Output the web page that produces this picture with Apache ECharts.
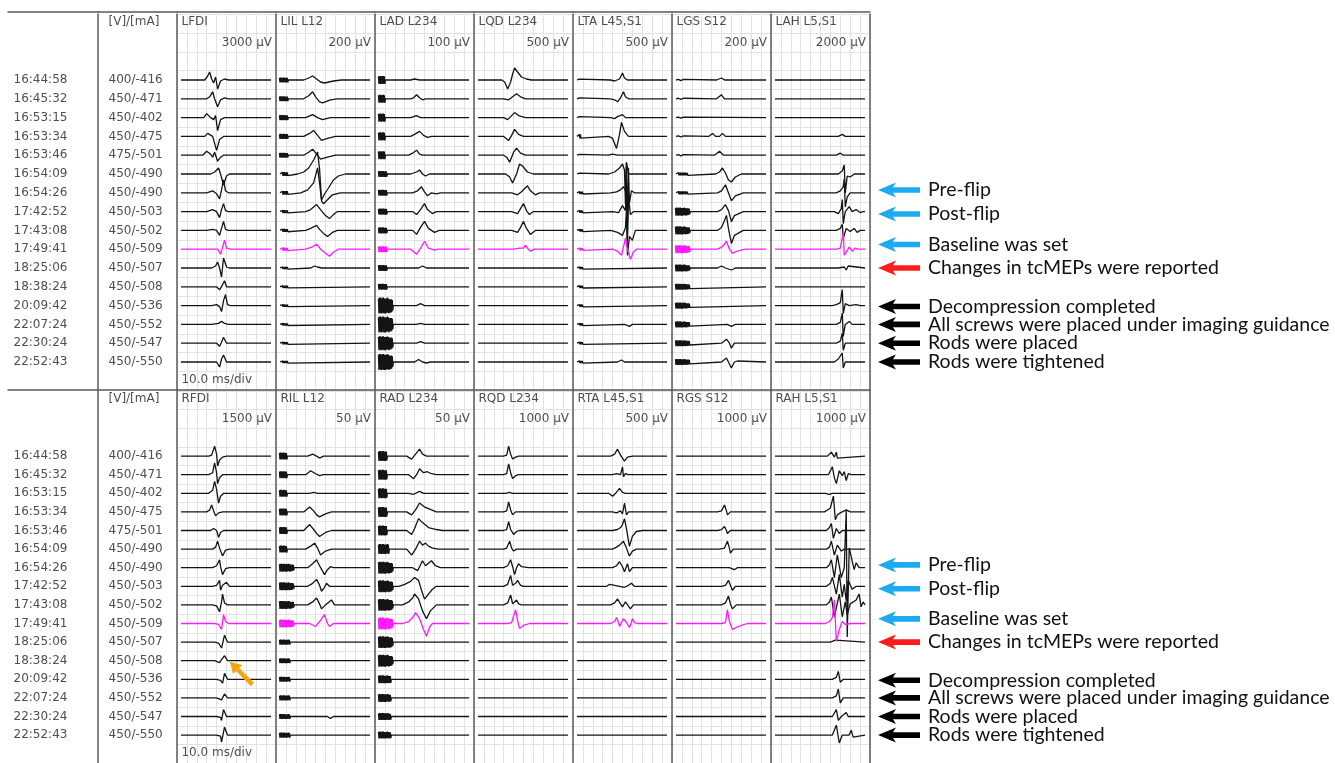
<!DOCTYPE html>
<html>
<head>
<meta charset="utf-8">
<script src="https://cdn.jsdelivr.net/npm/echarts@6/dist/echarts.min.js"></script>
<style>
  html, body { margin: 0; padding: 0; background: #fff; }
  #chart { width: 1335px; height: 763px; }
</style>
</head>
<body>
<div id="chart"></div>
<script>
// ---- layout units: one trace row = ROW grid units (about one pixel per unit) ----
const ROW = 18.8;
const HEAD_ROWS = 3;       // header rows above the first trace
const FOOT_ROWS = 17;      // axis end, in rows
const TRACE_SPAN = [4, 95]; // shown sweep window, ms (10 ms/div, 100 ms)

// ---- run list ----
const times = ['16:44:58', '16:45:32', '16:53:15', '16:53:34', '16:53:46', '16:54:09', '16:54:26', '17:42:52',
  '17:43:08', '17:49:41', '18:25:06', '18:38:24', '20:09:42', '22:07:24', '22:30:24', '22:52:43'];
const stimulus = ['400/-416', '450/-471', '450/-402', '450/-475', '475/-501', '450/-490', '450/-490', '450/-503',
  '450/-502', '450/-509', '450/-507', '450/-508', '450/-536', '450/-552', '450/-547', '450/-550'];
const BASELINE_ROW = 9;

const leftNames = ['LFDI', 'LIL L12', 'LAD L234', 'LQD L234', 'LTA L45,S1', 'LGS S12', 'LAH L5,S1'];
const leftGains = ['3000 µV', '200 µV', '100 µV', '500 µV', '500 µV', '200 µV', '2000 µV'];
const rightNames = ['RFDI', 'RIL L12', 'RAD L234', 'RQD L234', 'RTA L45,S1', 'RGS S12', 'RAH L5,S1'];
const rightGains = ['1500 µV', '50 µV', '50 µV', '1000 µV', '500 µV', '1000 µV', '1000 µV'];

// ---- event notes ----
const notes = ['Pre-flip', 'Post-flip', 'Baseline was set', 'Changes in tcMEPs were reported',
  'Decompression completed', 'All screws were placed under imaging guidance', 'Rods were placed', 'Rods were tightened'];
const noteRows = [5.85, 7.13, 8.75, 10, 12.05, 13, 14, 15];
const noteColors = ['#1eaaf0', '#1eaaf0', '#1eaaf0', '#ff1c1c', '#000000', '#000000', '#000000', '#000000'];

// ---- stimulus artifact ringing (ms, relative size), cut per row at its own end time ----
const artifactShape = [3,0, 3.5,0.9, 4,-1, 4.5,1, 5,-0.9, 5.5,1, 6,-1, 6.5,0.9, 7,-1, 7.5,1, 8,-0.9, 8.5,1,
  9,-1, 9.5,0.9, 10,-1, 10.5,0.9, 11,-1, 11.5,0.9, 12,-0.9, 12.5,1, 13,-0.9, 13.5,0.9, 14,-1, 14.5,0.8,
  15,-0.9, 15.5,0.8, 16,-0.9, 16.5,0.8, 17,-0.8, 17.5,0.7, 18,-0.6, 18.5,0.4];
// per row: [size, end ms]
const artLIL = [[2.5,12],[2.5,12],[2.5,12],[2.5,12],[2.5,12],[1.8,12],[1.8,12],[1.5,12],[1.5,12],[1.5,12],[1.2,12],[1.2,12],[1.2,12],[1.2,12],[1.2,12],[1.2,12]];
const artLAD = [[4,10],[4,10],[4,10],[4,10],[4,10],[3,12],[3,12],[3,12],[3,12],[3,12],[3,12],[3,12],[8,18],[8,18],[7,18],[8,18]];
const artLTA = [[1,8],[1,8],[1,8],[2,8],[1,8],[1,8],[1.2,10],[1.2,10],[1.2,10],[1.2,10],[1.2,10],[1.2,10],[1.2,10],[1.2,10],[1.2,10],[1.2,10]];
const artLGS = [[0.6,12],[0.6,12],[0.6,12],[0.6,12],[0.6,12],[1.5,16],[1.5,16],[4,18],[4,18],[4,18],[3.5,18],[3,18],[3,18],[3,18],[3,18],[3,18]];
const artRIL = [[3.5,11],[3.5,11],[3.5,11],[3.5,11],[3.5,11],[3.5,11],[4,18],[4,18],[4,18],[4,18],[2.5,14],[2.5,14],[2.5,14],[2.5,14],[2.5,14],[2.5,14]];
const artRAD = [[5,12],[5,12],[5,12],[5,12],[5,12],[5,14],[6,18],[6,18],[6,18],[6,18],[6,18],[6,18],[4,16],[4,16],[3.5,16],[3.5,16]];

// ---- responses: per row [ms, deflection, ...], deflection in grid units, up positive ----
const LFDI = [
  [28,0, 31,4, 33,8, 35,1, 37,-3, 39,3, 41,-9, 44,-1, 48,1, 52,0],
  [30,0, 33,2, 36,7, 38,0, 41,-8, 44,-1, 48,1, 52,0],
  [27,0, 30,4, 31,5, 34,0, 37,-2, 39,2, 41,-13, 44,-2, 48,0],
  [28,0, 31,3, 33,5, 36,0, 40,-14, 43,-3, 47,0],
  [26,0, 30,4, 31,6, 34,1, 36,-2, 38,3, 41,-6, 44,-2, 47,0],
  [34,0, 38,2, 40,1, 42,6, 44,0, 47,-11, 50,-2, 53,0],
  [30,0, 36,2, 40,-1, 43,-6, 45,3, 47,13, 49,2, 52,0],
  [30,0, 36,2, 40,0, 43,-6, 45,2, 47,8, 49,1, 52,0],
  [30,0, 36,1, 40,0, 43,-5, 45,2, 47,9, 49,1, 52,0],
  [35,0, 41,0, 44,-5, 46,2, 48,9, 50,1, 53,0],
  [35,0, 39,2, 41,6, 43,0, 45,-9, 47,10, 50,1, 53,0],
  [35,0, 40,0, 43,-3, 46,2, 48,6, 50,0],
  [35,0, 40,1, 43,-1, 45,-6, 47,5, 49,11, 51,1, 54,0],
  [35,0, 42,1, 45,3, 48,1, 52,0],
  [35,0, 40,0, 43,-3, 45,1, 47,6, 50,0],
  [35,0, 40,0, 43,-5, 45,3, 47,7, 50,0]
];
const LIL = [
  [28,0, 33,2, 37,4, 41,1, 45,-2, 49,-3, 58,-1, 66,0],
  [28,0, 33,3, 37,7, 40,2, 44,-3, 47,-4, 55,-1, 62,0],
  [30,0, 37,3, 42,0, 47,-2, 55,0],
  [28,0, 34,3, 38,6, 42,1, 46,-4, 52,-2, 60,0],
  [28,0, 33,3, 37,6, 41,1, 45,-4, 52,-2, 60,0],
  [22,0, 28,2, 33,6, 38,14, 42,22, 44,5, 46,-26, 49,-20, 53,-14, 58,-6, 63,-2, 70,0],
  [25,0, 32,3, 38,10, 42,25, 44,10, 46,-8, 48,-11, 52,-7, 57,-2, 65,0],
  [30,0, 35,2, 41,7, 45,2, 50,-4, 54,-7, 58,-3, 62,0],
  [30,0, 35,2, 41,5, 44,1, 48,-3, 52,-6, 57,-2, 62,0],
  [30,0, 36,2, 41,5, 45,0, 50,-4, 54,-7, 58,-3, 63,0],
  [35,0, 39,2, 42,1, 46,0],
  [], [], [], [], []
];
const LAD = [
  [36,0, 40,1, 42,2, 45,0],
  [36,0, 39,1, 42,4, 45,1, 48,-1, 51,0],
  [36,0, 42,2, 46,0],
  [36,0, 40,2, 45,5, 49,1, 53,-1, 57,0],
  [34,0, 38,2, 42,5, 45,1, 48,0],
  [36,0, 42,2, 45,4, 48,0, 51,-2, 55,0],
  [38,0, 43,2, 47,6, 50,1, 53,-3, 57,0, 62,-1, 66,0],
  [38,0, 42,-3, 46,2, 50,8, 53,2, 58,-2, 62,0],
  [38,0, 42,-4, 46,3, 50,9, 54,2, 60,-2, 65,0],
  [36,0, 42,-5, 46,1, 50,8, 54,1, 60,-1, 64,0],
  [44,0, 48,2, 52,0],
  [],
  [42,0, 46,2, 50,0],
  [42,0, 46,1, 50,0],
  [42,0, 46,1.5, 50,0],
  [40,0, 44,2.5, 48,0, 52,-1, 56,0]
];
const LQD = [
  [28,0, 31,-2, 34,-9, 37,-2, 39,6, 41,12, 44,8, 48,3, 53,1, 58,0],
  [30,0, 35,-1, 39,2, 43,5, 47,2, 52,0],
  [30,0, 34,-2, 37,1, 41,5, 45,2, 52,0],
  [30,0, 35,-4, 38,1, 41,7, 45,2, 50,0],
  [30,0, 33,-2, 36,-7, 40,3, 43,7, 47,2, 52,0],
  [32,0, 36,-3, 39,-9, 43,0, 46,10, 49,8, 54,2, 60,0],
  [38,0, 44,-2, 48,1, 51,4, 54,7, 57,2, 62,-2, 66,0],
  [38,0, 44,-2, 47,3, 50,8, 53,1, 56,-3, 60,0],
  [38,0, 44,-2, 47,3, 50,9, 53,2, 57,-4, 62,0],
  [40,0, 46,1, 48,3, 50,1, 52,4, 54,1, 57,-2, 61,0],
  [], [], [], [], [], []
];
const LTA = [
  [38,0, 42,-1, 44,-3, 47,1, 50,7, 52,2, 55,0],
  [38,0, 42,-1, 45,-3, 48,1, 51,7, 53,2, 56,0],
  [38,0, 42,-1, 45,1, 50,3, 53,0],
  [36,0, 40,-2, 44,-12, 47,2, 49,14, 52,5, 56,0],
  [36,0, 40,1, 42,2, 45,0],
  [36,0, 42,2, 47,6, 50,10, 52,4, 53,-30, 54,12, 56,0, 60,0],
  [38,0, 44,1, 48,3, 51,6, 53,2, 54,30, 55,-40, 56,25, 57,-10, 59,2, 62,0],
  [40,0, 46,-1, 50,6, 53,1, 54,28, 55,-30, 56,15, 58,-3, 61,0],
  [38,0, 45,-2, 50,-5, 53,3, 54,20, 55,-25, 57,-6, 60,-10, 63,0],
  [40,0, 45,-2, 49,-6, 51,2, 53,11, 55,0, 58,-10, 61,-3, 64,0],
  [], [], [],
  [52,0, 57,-2, 60,0],
  [],
  [45,0, 49,2, 52,0]
];
const LGS = [
  [45,0, 50,2, 53,0],
  [45,0, 50,4, 53,0, 55,-1, 58,0],
  [],
  [37,0, 41,3, 44,0, 48,0, 51,3, 54,0],
  [43,0, 48,4, 52,0],
  [44,0, 48,2, 51,6, 54,1, 57,-6, 60,-8, 64,-3, 70,0],
  [46,0, 50,2, 54,8, 57,0, 60,-8, 64,-3, 72,0],
  [46,0, 50,2, 54,7, 57,1, 60,-10, 63,-4, 72,0],
  [46,0, 50,3, 53,10, 55,15, 57,2, 60,-13, 63,-5, 72,0],
  [46,0, 50,2, 53,5, 55,8, 58,0, 61,-4, 66,-2, 74,0],
  [46,0, 50,2, 54,0, 60,-2, 64,0],
  [], [],
  [56,0, 60,-2, 64,0],
  [50,0, 55,4, 58,0, 60,-5, 63,0],
  [50,0, 55,4, 58,-2, 60,-6, 63,0, 66,1, 68,0]
];
const LAH = [
  [], [], [],
  [68,0, 72,2, 75,0],
  [66,0, 70,2, 73,0],
  [68,0, 72,3, 74,9, 75,-19, 77,-2, 80,-3, 84,0],
  [66,0, 70,2, 73,6, 74,14, 75,-14, 77,-4, 80,0],
  [64,0, 68,-2, 71,3, 72,12, 73,-12, 75,0, 79,5, 82,0, 86,2, 90,-1, 93,0],
  [66,0, 70,2, 72,6, 73,-8, 76,2, 80,-1, 84,2, 87,-2, 90,0],
  [66,0, 70,1, 72,3, 73,16, 74,-6, 76,-3, 79,2, 82,-2, 85,1, 88,0],
  [68,0, 74,1, 76,-2, 78,2, 80,0],
  [],
  [62,0, 66,1, 70,3, 72,16, 73,-8, 75,2, 79,0, 86,1, 90,0],
  [66,0, 70,2, 72,11, 73,-12, 75,0, 79,3, 82,0],
  [66,0, 70,2, 72,10, 73,-7, 75,0],
  [64,0, 68,3, 72,9, 73,-6, 75,0, 80,0]
];

const RFDI = [
  [32,0, 35,1, 37,3, 38,10, 40,2, 41,-10, 43,-4, 46,-1, 50,0],
  [32,0, 36,2, 38,12, 40,2, 41,-9, 43,-3, 46,0],
  [32,0, 36,3, 38,12, 40,4, 42,-10, 44,-3, 47,0],
  [30,0, 33,2, 35,7, 37,1, 39,-4, 42,-1, 46,0],
  [34,0, 37,2, 38,4, 40,0, 42,-7, 44,-2, 47,0],
  [36,0, 39,2, 41,8, 43,1, 46,-7, 49,-1, 53,0],
  [36,0, 40,2, 43,8, 44,1, 46,-7, 49,-1, 53,0],
  [36,0, 40,1, 43,6, 44,-4, 46,1, 50,4, 53,0],
  [36,0, 40,-1, 43,-7, 45,3, 46,11, 48,2, 51,0],
  [38,0, 42,-1, 45,-6, 47,9, 49,2, 52,0],
  [38,0, 42,-1, 45,-6, 48,7, 51,0],
  [38,0, 43,-2, 45,1, 48,5, 51,0],
  [40,0, 44,-1, 46,-4, 48,6, 51,0],
  [40,0, 45,-2, 48,4, 51,0],
  [40,0, 44,-1, 45,-4, 47,7, 50,0],
  [40,0, 44,-1, 45,-7, 48,8, 51,0]
];
const RIL = [
  [32,0, 37,2, 41,0, 44,-2, 48,0],
  [30,0, 35,4, 40,1, 44,-1, 48,0],
  [34,0, 38,1, 42,0],
  [28,0, 34,5, 38,1, 41,-3, 44,-5, 50,-2, 56,0],
  [28,0, 34,6, 38,1, 41,-3, 44,-6, 50,-2, 56,0],
  [30,0, 35,3, 39,6, 42,1, 45,-6, 50,-2, 56,0],
  [32,0, 37,4, 41,8, 44,2, 49,-7, 52,-2, 55,1, 58,0],
  [32,0, 37,3, 41,7, 44,1, 46,-5, 49,-1, 51,3, 54,0],
  [32,0, 37,3, 41,7, 44,1, 46,-4, 50,0, 56,5, 59,0],
  [34,0, 40,-3, 44,2, 49,9, 52,0, 54,-3, 58,0],
  [], [], [], [],
  [52,0, 55,-2, 58,0],
  []
];
const RAD = [
  [32,0, 37,-3, 41,2, 45,7, 48,2, 52,0],
  [34,0, 39,-4, 42,0, 45,6, 49,2, 53,3, 57,1, 62,0],
  [34,0, 39,-1, 45,2, 49,0],
  [32,0, 37,-3, 41,2, 45,9, 50,5, 57,2, 62,0],
  [32,0, 37,-4, 40,2, 44,12, 48,8, 54,3, 62,1, 68,0],
  [32,0, 37,-6, 41,0, 45,8, 48,4, 51,6, 54,3, 58,1, 64,0],
  [38,0, 43,-3, 46,3, 48,7, 51,2, 57,7, 61,2, 66,0],
  [24,0, 30,2, 36,5, 40,9, 44,6, 47,-4, 50,-13, 54,-8, 58,-3, 62,0],
  [28,0, 34,3, 38,7, 40,11, 44,6, 48,-6, 52,-14, 56,-6, 62,0],
  [28,0, 34,2, 38,6, 41,11, 45,5, 49,-6, 52,-13, 55,-4, 58,0],
  [], [], [], [], [], []
];
const RQD = [
  [30,0, 33,1, 35,10, 37,2, 39,-3, 42,-1, 45,0],
  [30,0, 33,1, 35,11, 37,2, 39,-4, 42,-1, 45,0],
  [32,0, 36,1, 39,0],
  [30,0, 33,1, 35,10, 37,2, 39,-3, 42,0],
  [30,0, 33,1, 35,9, 37,1, 40,-4, 43,-1, 46,0],
  [30,0, 33,1, 36,8, 38,1, 40,-2, 43,0],
  [30,0, 34,2, 37,8, 39,1, 41,-7, 43,0, 45,4, 48,1, 55,0],
  [30,0, 34,2, 37,11, 39,1, 40,-1, 42,3, 44,6, 47,1, 50,0],
  [30,0, 34,2, 37,10, 39,1, 40,1, 43,5, 45,1, 48,0],
  [34,0, 38,1, 40,3, 42,14, 44,3, 46,-5, 50,-2, 56,0],
  [], [], [], [], [], []
];
const RTA = [
  [38,0, 42,2, 45,7, 48,1, 52,-5, 55,-1, 60,0],
  [40,0, 44,1, 46,3, 48,0, 50,8, 51,-2, 53,1, 56,0],
  [36,0, 40,-3, 43,0, 47,5, 50,1, 53,0],
  [40,0, 44,-1, 48,1, 50,-2, 52,9, 54,-3, 56,0, 59,0],
  [40,0, 45,1, 48,3, 50,6, 52,12, 54,2, 57,-16, 60,-6, 64,-1, 70,0],
  [40,0, 44,2, 47,4, 51,8, 54,1, 57,-7, 60,-2, 64,0],
  [40,0, 44,2, 47,6, 50,1, 52,-4, 55,4, 57,-4, 60,0],
  [34,0, 37,2, 39,4, 42,1, 47,0, 52,-1, 56,1, 59,3, 62,0],
  [38,0, 42,2, 45,6, 48,1, 50,-2, 53,3, 55,1, 58,-4, 61,0],
  [38,0, 42,2, 44,6, 46,1, 47,-3, 49,1, 51,5, 54,1, 57,-4, 59,1, 60,5, 62,1, 65,0],
  [], [], [], [], [], []
];
const RGS = [
  [], [], [],
  [46,0, 50,1, 53,7, 55,1, 56,-3, 59,0],
  [46,0, 50,1, 53,4, 55,0, 56,-3, 59,0],
  [48,0, 53,1, 56,8, 58,1, 59,-4, 62,0],
  [58,0, 63,-2, 66,0],
  [50,0, 54,1, 57,6, 59,1, 61,-4, 64,0],
  [50,0, 54,2, 57,9, 59,1, 61,-4, 65,0],
  [50,0, 54,1, 56,14, 58,2, 61,-6, 65,-4, 70,-2, 76,0],
  [], [], [], [], [], []
];
const RAH = [
  [57,0, 61,4, 64,-1, 66,4, 67,-2, 69,0],
  [58,0, 62,8, 64,-3, 66,-9, 69,4, 72,-1, 74,3, 76,-6, 78,1, 81,0],
  [55,0, 57,2, 59,-1, 62,0],
  [54,0, 57,2, 60,4, 63,16, 65,-8, 67,-3, 70,-1, 76,2, 80,0],
  [56,0, 59,3, 61,7, 63,-8, 66,2, 69,-3, 72,0],
  [56,0, 59,2, 61,8, 64,-6, 67,4, 71,-2, 74,0],
  [56,0, 59,3, 61,8, 64,-10, 67,13, 71,-10, 74,0, 76,58, 77,-70, 79,20, 84,-2, 86,5, 89,0],
  [56,0, 60,3, 62,9, 66,-8, 69,12, 72,-11, 74,2, 76,-15, 78,6, 82,-3, 86,0],
  [56,0, 59,3, 61,8, 64,-12, 69,11, 72,-12, 75,3, 77,-10, 80,1, 86,5, 89,11, 91,-2, 93,3, 95,0],
  [55,0, 59,2, 62,6, 64,24, 66,-18, 69,-6, 72,2, 75,-1, 80,0],
  [60,0, 65,2, 67,0],
  [],
  [62,0, 66,2, 68,8, 70,-3, 73,0],
  [62,0, 66,2, 68,9, 70,-5, 73,0],
  [62,0, 66,7, 68,-4, 71,0, 76,4, 78,0],
  [62,0, 66,10, 69,-8, 72,0, 79,0, 81,5, 83,-2, 85,0]
];

// pointer on the right FDI trace at 18:38:24: [tail ms, tail row, tip ms, tip row]
const pointer = [76, 12.27, 53.5, 11.05];

// ---- page geometry ----
const COL_X = [177, 276, 375, 474, 573, 672, 771];
const COL_W = 99;
const panels = [
  { top: 14.2, height: 376, ruleOffset: 2, names: leftNames, gains: leftGains,
    traces: [LFDI, LIL, LAD, LQD, LTA, LGS, LAH], arts: [null, artLIL, artLAD, null, artLTA, artLGS, null] },
  { top: 391, height: 377.4, ruleOffset: 1, names: rightNames, gains: rightGains,
    traces: [RFDI, RIL, RAD, RQD, RTA, RGS, RAH], arts: [null, artRIL, artRAD, null, null, null, null] }
];
const NAME_Y = -2.6 * ROW, GAIN_Y = -1.5 * ROW, FOOT_Y = 16.45 * ROW;
const INK = '#141414', MAGENTA = '#ff1aff', GRIDLINE = '#e2e2e2', FRAME = '#5a5a5a';
const TEXT_FONT = 'DejaVu Sans';

const rowY = r => (r + 0.5) * ROW;

function traceData(keys, row, art) {
  const c = rowY(row);
  const pts = [[TRACE_SPAN[0], c]];
  if (art) {
    for (let k = 0; k < artifactShape.length && artifactShape[k] <= art[1]; k += 2) {
      pts.push([artifactShape[k], c - artifactShape[k + 1] * art[0]]);
    }
    pts.push([art[1] + 0.5, c]);
  }
  for (let k = 0; k < keys.length; k += 2) pts.push([keys[k], c - keys[k + 1]]);
  pts.push([TRACE_SPAN[1], c]);
  return pts;
}

const grids = [], xAxes = [], yAxes = [], series = [];
const hidden = { show: false };
const frameLine = { show: true, onZero: false, lineStyle: { color: FRAME, width: 1.5 } };
const yBase = { type: 'value', inverse: true, min: -HEAD_ROWS * ROW, max: FOOT_ROWS * ROW, interval: ROW,
  axisLabel: hidden, axisTick: hidden };

function addGrid(g, x, y) {
  grids.push(g);
  const i = grids.length - 1;
  xAxes.push(Object.assign({ gridIndex: i }, x));
  yAxes.push(Object.assign({ gridIndex: i }, y));
  return i;
}

function textSeries(gi, items, pos, dist) {
  return {
    type: 'scatter', xAxisIndex: gi, yAxisIndex: gi, symbolSize: 1, silent: true,
    itemStyle: { color: 'rgba(0,0,0,0)' },
    data: items.map(d => ({ value: [d[0], d[1]], name: d[2] })),
    label: { show: true, position: pos, distance: dist, formatter: '{b}', color: '#222',
      fontFamily: TEXT_FONT, fontSize: 12 }
  };
}

function noteArrow(params, api) {
  const i = params.dataIndex;
  const a = api.coord([api.value(0), api.value(1)]);
  const b = api.coord([api.value(2), api.value(1)]);
  const x0 = a[0], x1 = b[0], y = a[1];
  const col = noteColors[i];
  return {
    type: 'group',
    children: [
      { type: 'polygon', shape: { points: [[x0, y], [x0 + 18, y - 7.5], [x0 + 15, y - 2.8], [x1, y - 2.8],
        [x1, y + 2.8], [x0 + 15, y + 2.8], [x0 + 18, y + 7.5]] }, style: { fill: col } },
      { type: 'text', x: x1 + 8, y: y, style: { text: notes[i], fontFamily: 'Lato', fontSize: 19.5,
        fill: '#111', verticalAlign: 'middle', align: 'left' } }
    ]
  };
}

function pointerArrow(params, api) {
  const a = api.coord([api.value(0), api.value(1)]);
  const b = api.coord([api.value(2), api.value(3)]);
  const dx = b[0] - a[0], dy = b[1] - a[1], L = Math.hypot(dx, dy);
  const ux = dx / L, uy = dy / L, hl = 11, hw = 6.5;
  const base = [b[0] - ux * hl, b[1] - uy * hl];
  return {
    type: 'group',
    children: [
      { type: 'line', shape: { x1: a[0], y1: a[1], x2: base[0], y2: base[1] },
        style: { stroke: '#f5a40c', lineWidth: 4.5 } },
      { type: 'polygon', shape: { points: [b, [base[0] - uy * hw, base[1] + ux * hw], [base[0] + uy * hw, base[1] - ux * hw]] },
        style: { fill: '#f5a40c' } }
    ]
  };
}

panels.forEach((P, pi) => {
  const box = { top: P.top, height: P.height };
  const rule = Object.assign({}, frameLine);
  const plainX = { type: 'value', min: 0, max: 1, position: 'top', offset: P.ruleOffset, axisLine: rule,
    axisTick: hidden, axisLabel: hidden, splitLine: hidden };

  // run time column
  let gi = addGrid(Object.assign({ left: 8, width: 90 }, box), plainX,
    Object.assign({}, yBase, { axisLine: hidden, splitLine: hidden }));
  series.push(textSeries(gi, times.map((t, i) => [0, rowY(i), t]), 'right', 5));

  // stimulus column
  gi = addGrid(Object.assign({ left: 98, width: 79 }, box), plainX,
    Object.assign({}, yBase, { axisLine: frameLine, splitLine: hidden }));
  series.push(textSeries(gi, stimulus.map((s, i) => [0, rowY(i), s]), 'right', 10));
  series.push(textSeries(gi, [[0, NAME_Y, '[V]/[mA]']], 'right', 10));

  // channel columns
  COL_X.forEach((x, c) => {
    const g = addGrid(Object.assign({ left: x, width: COL_W }, box),
      { type: 'value', min: 0, max: 100, interval: 10, position: 'top', offset: P.ruleOffset, axisLine: rule,
        axisTick: hidden, axisLabel: hidden, splitLine: { show: true, lineStyle: { color: GRIDLINE, width: 1 } } },
      Object.assign({}, yBase, { axisLine: frameLine, splitLine: { show: true, lineStyle: { color: GRIDLINE, width: 1 } } }));
    P.traces[c].forEach((keys, r) => {
      series.push({
        type: 'line', xAxisIndex: g, yAxisIndex: g, symbol: 'none', silent: true, z: r === BASELINE_ROW ? 4 : 3,
        data: traceData(keys, r, P.arts[c] ? P.arts[c][r] : null),
        lineStyle: { color: r === BASELINE_ROW ? MAGENTA : INK, width: 1.3 }
      });
    });
    series.push(textSeries(g, [[4, NAME_Y, P.names[c]]], 'right', 0));
    series.push(textSeries(g, [[96.5, GAIN_Y, P.gains[c]]], 'left', 0));
    if (c === 0) series.push(textSeries(g, [[4, FOOT_Y, '10.0 ms/div']], 'right', 0));
    if (c === 0 && pi === 1) {
      series.push({ type: 'custom', xAxisIndex: g, yAxisIndex: g, silent: true, z: 6, renderItem: pointerArrow,
        data: [[pointer[0], rowY(pointer[1]), pointer[2], rowY(pointer[3])]] });
    }
  });

  // event notes
  gi = addGrid(Object.assign({ left: 870, width: 465 }, box),
    { type: 'value', min: 0, max: 465, show: false },
    Object.assign({}, yBase, { axisLine: frameLine, splitLine: hidden }));
  series.push({ type: 'custom', xAxisIndex: gi, yAxisIndex: gi, silent: true, renderItem: noteArrow,
    data: noteRows.map(r => [8, rowY(r), 50]) });
});

const chart = echarts.init(document.getElementById('chart'), null, { renderer: 'canvas' });
chart.setOption({
  animation: false,
  backgroundColor: '#ffffff',
  grid: grids,
  xAxis: xAxes,
  yAxis: yAxes,
  series: series
});
</script>
</body>
</html>
